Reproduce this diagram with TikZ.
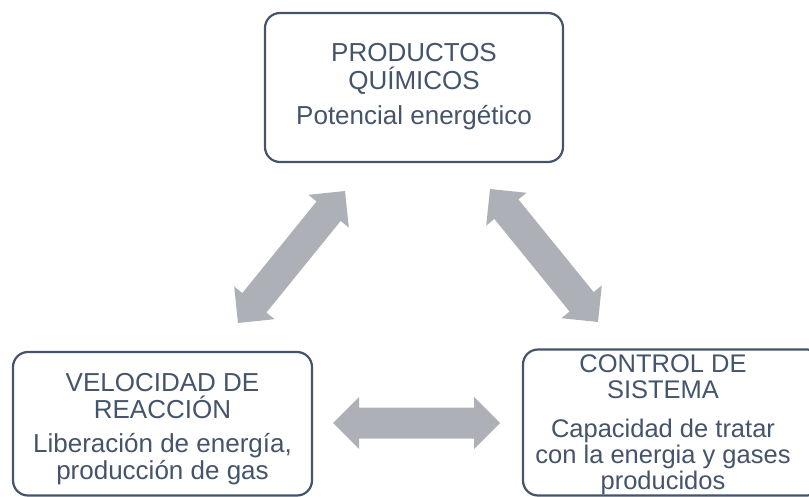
\documentclass[tikz,border=0pt]{standalone}
\usepackage{fontspec}
\setmainfont{Liberation Sans}
\usetikzlibrary{calc}
\definecolor{txt}{HTML}{44546A}
\definecolor{arr}{HTML}{ADB0B7}
\newcommand{\dblarrow}[2]{%
  \coordinate (ha) at ($(#1)!26pt!(#2)$);
  \coordinate (hb) at ($(#2)!26pt!(#1)$);
  \fill[arrowfill] (#1) -- ($(ha)!26pt!90:(#2)$) -- ($(ha)!15.5pt!90:(#2)$)
    -- ($(hb)!15.5pt!-90:(#1)$) -- ($(hb)!26pt!-90:(#1)$) -- (#2)
    -- ($(hb)!26pt!90:(#1)$) -- ($(hb)!15.5pt!90:(#1)$)
    -- ($(ha)!15.5pt!-90:(#2)$) -- ($(ha)!26pt!-90:(#2)$) -- cycle;}
\tikzset{
  box/.style={draw=txt, line width=2.2pt, rounded corners=15pt, fill=white},
  lbl/.style={text=txt, align=center, inner sep=0pt},
  arrowfill/.style={fill=arr},
}
\begin{document}
\begin{tikzpicture}[x=1pt,y=-1pt]
\useasboundingbox (0,0) rectangle (809,497);
\clip (0,0) rectangle (809,497);
% boxes
\draw[box] (265,13) rectangle (563,162);
\draw[box] (13,352) rectangle (312,495.5);
\draw[box] (523,349.5) rectangle (822,495.5);
% texts
\node[lbl, font=\fontsize{26}{28}\selectfont] (tT) at (414,87)
  {PRODUCTOS\\QUÍMICOS\\[7pt]Potencial energético};
\node[lbl, font=\fontsize{26}{27}\selectfont] (tL) at (162.5,429)
  {VELOCIDAD DE\\REACCIÓN\\[7pt]Liberación de energía,\\producción de gas};
\node[lbl, font=\fontsize{25.5}{26}\selectfont] (tR) at (663,424.5)
  {CONTROL DE\\SISTEMA\\[13pt]Capacidad de tratar\\con la energia y gases\\producidos};
% arrow ends
\coordinate (a1) at (238,323);
\coordinate (a2) at (345,191);
\coordinate (b1) at (490,189);
\coordinate (b2) at (598,322);
\coordinate (c1) at (333,423);
\coordinate (c2) at (500,423);
\dblarrow{a1}{a2}
\dblarrow{b1}{b2}
\dblarrow{c1}{c2}
\end{tikzpicture}
\end{document}
